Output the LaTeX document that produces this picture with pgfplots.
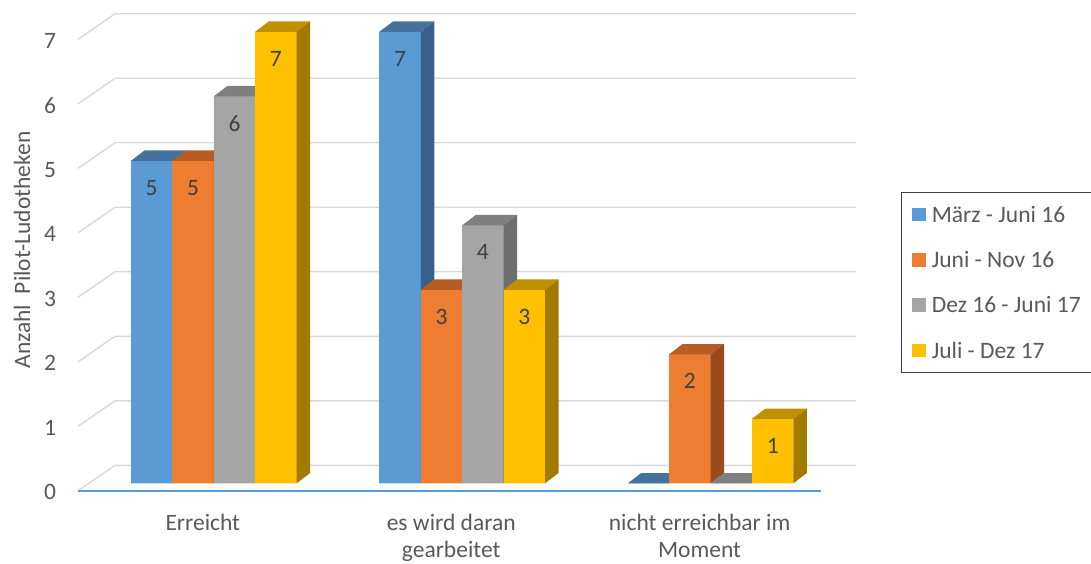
\documentclass[border=0pt]{standalone}
\usepackage{pgfplots}
\pgfplotsset{compat=1.18}
\usepackage{pgfplotstable}
\usepackage{fontspec}
\setmainfont{Carlito}

\definecolor{blueF}{HTML}{5B9BD5}
\definecolor{blueT}{HTML}{44729D}
\definecolor{blueS}{HTML}{3A608C}
\definecolor{orangeF}{HTML}{ED7D31}
\definecolor{orangeT}{HTML}{B55D22}
\definecolor{orangeS}{HTML}{984B1E}
\definecolor{grayF}{HTML}{A5A5A5}
\definecolor{grayT}{HTML}{7F7F7F}
\definecolor{grayS}{HTML}{6E6E6E}
\definecolor{yellowF}{HTML}{FFC000}
\definecolor{yellowT}{HTML}{BF9000}
\definecolor{yellowS}{HTML}{A37A00}
\definecolor{gridc}{HTML}{D9D9D9}
\definecolor{floorc}{HTML}{5B9BD5}
\definecolor{tickc}{HTML}{595959}
\definecolor{labc}{HTML}{404040}
\definecolor{legc}{HTML}{404040}

\newcommand\fs{\fontsize{23.5pt}{26.5pt}\selectfont}

\pgfplotstableread{
cat A B C D
0 5 5 6 7
1 7 3 4 3
2 0 2 0 1
}\datatab

% front, top and side faces of a 3D bar, drawn at the data point (top of the bar)
\newcommand\declbox[5]{%
\pgfdeclareplotmark{#1}{%
  \begin{pgfscope}%
  \pgftransformxshift{#2}%
  \pgfmathsetlengthmacro\hh{\rawy*64.5pt}%
  \pgfpathrectanglecorners{\pgfpoint{-20.7pt}{-\hh}}{\pgfqpoint{20.7pt}{0pt}}%
  \pgfsetfillcolor{#3}\pgfusepath{fill}%
  \pgfpathmoveto{\pgfqpoint{-20.7pt}{0pt}}%
  \pgfpathlineto{\pgfqpoint{20.7pt}{0pt}}%
  \pgfpathlineto{\pgfqpoint{34.2pt}{10.3pt}}%
  \pgfpathlineto{\pgfqpoint{-7.2pt}{10.3pt}}%
  \pgfpathclose
  \pgfsetfillcolor{#4}\pgfusepath{fill}%
  \pgfpathmoveto{\pgfqpoint{20.7pt}{0pt}}%
  \pgfpathlineto{\pgfqpoint{34.2pt}{10.3pt}}%
  \pgfpathlineto{\pgfpoint{34.2pt}{10.3pt-\hh}}%
  \pgfpathlineto{\pgfpoint{20.7pt}{-\hh}}%
  \pgfpathclose
  \pgfsetfillcolor{#5}\pgfusepath{fill}%
  \end{pgfscope}%
}}
\declbox{boxA}{-62.1pt}{blueF}{blueT}{blueS}
\declbox{boxB}{-20.7pt}{orangeF}{orangeT}{orangeS}
\declbox{boxC}{20.7pt}{grayF}{grayT}{grayS}
\declbox{boxD}{62.1pt}{yellowF}{yellowT}{yellowS}

\pgfplotsset{
  legsq/.style={legend image code/.code={\fill[##1,draw=none] (0pt,-6.85pt) rectangle (13.7pt,6.85pt);}},
  front/.style={ybar, bar width=41.4pt, bar shift=#1, draw=none, legsq},
  faces/.style 2 args={forget plot, only marks, mark=#1,
    visualization depends on={rawy \as \rawy},
    nodes near coords={\pgfmathfloatifflags{\pgfplotspointmeta}{0}{}{\pgfmathprintnumber{\pgfplotspointmeta}}},
    every node near coord/.append style={anchor=center, inner sep=0pt, xshift=#2, yshift=-27pt, font=\fs, text=labc}},
}

\begin{document}
\begin{tikzpicture}
\useasboundingbox (0,0) rectangle (1091pt,563pt);
\begin{axis}[
  at={(89.6pt,79.7pt)}, anchor=south west,
  x=248.4pt, y=64.5pt,
  xmin=-0.5, xmax=2.5, ymin=0, ymax=7.2,
  clip=false,
  axis x line*=bottom, axis y line*=left,
  axis line style={draw=none},
  major tick length=0pt,
  xtick={0,1,2},
  xticklabels={Erreicht, {es wird daran\\gearbeitet}, {nicht erreichbar im\\Moment}},
  ytick={0,1,...,7},
  /pgf/number format/assume math mode=true,
  tick label style={font=\fs, text=tickc},
  xticklabel style={align=center, anchor=north, inner sep=0pt, yshift=-31pt, xshift=-11pt},
  yticklabel style={anchor=center, inner sep=0pt, xshift=-39.6pt, yshift=-9pt},
  ylabel={Anzahl\ \ Pilot-Ludotheken},
  ylabel style={at={(axis description cs:-0.0907,0.5024)}, anchor=center, font=\fs, text=tickc, inner sep=0pt},
  legend style={at={(axis description cs:1.0884,0.6266)}, anchor=north west,
    draw=legc, line width=0.9pt, fill=white,
    inner xsep=11pt, inner ysep=9pt, row sep=19.8pt, column sep=6pt,
    font=\fs, text=tickc,
    nodes={inner sep=0pt, text height=20.5pt, text depth=5pt}},
  legend cell align=left,
]
\pgfplotsinvokeforeach{0,...,7}{
  \draw[gridc, line width=1.4pt]
    ([xshift=-11.6pt,yshift=-7.5pt]axis cs:-0.5,#1) --
    ([xshift=25.4pt,yshift=18pt]axis cs:-0.5,#1) --
    ([xshift=21.2pt,yshift=18pt]axis cs:2.5,#1);
}
\draw[floorc, line width=2pt]
  ([xshift=-11.6pt,yshift=-7.5pt]axis cs:-0.5,0) --
  ([xshift=-13.8pt,yshift=-7.5pt]axis cs:2.5,0);

\addplot[front=-62.1pt, fill=blueF] table[x=cat,y=A]{\datatab};
\addlegendentry{März - Juni 16}
\addplot[faces={boxA}{-62.1pt}] table[x=cat,y=A]{\datatab};
\addplot[front=-20.7pt, fill=orangeF] table[x=cat,y=B]{\datatab};
\addlegendentry{Juni - Nov 16}
\addplot[faces={boxB}{-20.7pt}] table[x=cat,y=B]{\datatab};
\addplot[front=20.7pt, fill=grayF] table[x=cat,y=C]{\datatab};
\addlegendentry{Dez 16 - Juni 17}
\addplot[faces={boxC}{20.7pt}] table[x=cat,y=C]{\datatab};
\addplot[front=62.1pt, fill=yellowF] table[x=cat,y=D]{\datatab};
\addlegendentry{Juli - Dez 17}
\addplot[faces={boxD}{62.1pt}] table[x=cat,y=D]{\datatab};
\end{axis}
\end{tikzpicture}
\end{document}
